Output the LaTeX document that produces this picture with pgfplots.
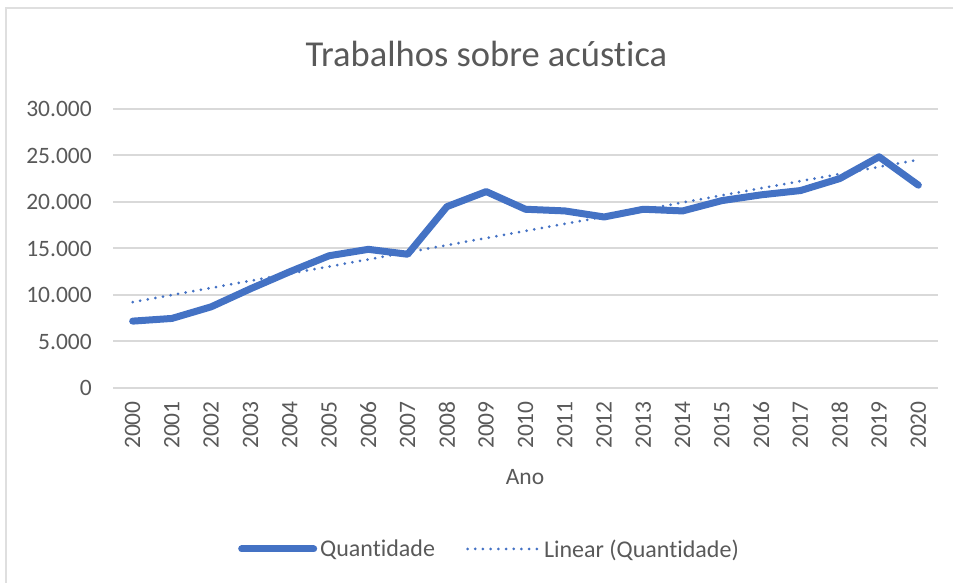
\documentclass[border=0pt]{standalone}
\usepackage{fontspec}
\setmainfont{Carlito}[Ligatures=NoCommon]
\usepackage{pgfplots}
\pgfplotsset{compat=1.18}

\definecolor{serie}{HTML}{4472C4}
\definecolor{texto}{HTML}{595959}
\definecolor{grade}{HTML}{D9D9D9}

\begin{document}
\begin{tikzpicture}
% moldura do gráfico (só topo e esquerda aparecem no recorte)
\path[use as bounding box] (0,0) rectangle (953pt,583pt);
\draw[gray!25, line width=2pt] (6pt,0pt) -- (6pt,575pt) -- (953pt,575pt);

\begin{axis}[
    at={(113pt,195pt)}, anchor=south west,
    scale only axis, width=825pt, height=279pt,
    xmin=1999.5, xmax=2020.5, ymin=0, ymax=30000,
    xtick={2000,...,2020}, ytick={0,5000,...,30000},
    scaled x ticks=false, scaled y ticks=false,
    axis line style={draw=none}, major tick length=0pt,
    ymajorgrids, grid style={grade, line width=2pt},
    /pgf/number format/assume math mode=true,
    y tick label style={/pgf/number format/1000 sep={.}, anchor=east, inner sep=0pt, xshift=-21pt},
    x tick label style={/pgf/number format/1000 sep={}, yshift=-13pt, rotate=90, anchor=east, inner sep=0pt},
    tick label style={font=\fontsize{23.5}{26}\selectfont, text=texto},
    title={Trabalhos sobre acústica},
    title style={font=\fontsize{36.5}{40}\selectfont, text=texto, at={(0.4527,1.1326)}, anchor=base, inner sep=0pt},
    xlabel={Ano},
    xlabel style={font=\fontsize{23.5}{26}\selectfont, text=texto, at={(0.4994,-0.345)}, anchor=base, inner sep=0pt},
    legend style={at={(0.457,-0.577)}, anchor=center, draw=none, fill=none,
        font=\fontsize{24}{26}\selectfont, text=texto,
        legend columns=2, /tikz/every even column/.append style={column sep=28pt},
        nodes={inner sep=3pt}},
    legend image code/.code={\draw[#1] (0pt,0pt) -- (72pt,0pt);},
]
\addplot[serie, line width=7pt, line cap=round, line join=round] coordinates {
(2000,7190) (2001,7480) (2002,8730) (2003,10670) (2004,12500) (2005,14220)
(2006,14910) (2007,14380) (2008,19500) (2009,21120) (2010,19220) (2011,19040)
(2012,18390) (2013,19220) (2014,19040) (2015,20150) (2016,20770) (2017,21230)
(2018,22520) (2019,24860) (2020,21810)
};
\addlegendentry{Quantidade}
\addplot[serie, line width=3pt, line cap=round, dash pattern=on 0pt off 7.7pt] coordinates {
(2000,9235) (2020,24540)
};
\addlegendentry{Linear (Quantidade)}
\end{axis}
\end{tikzpicture}
\end{document}
